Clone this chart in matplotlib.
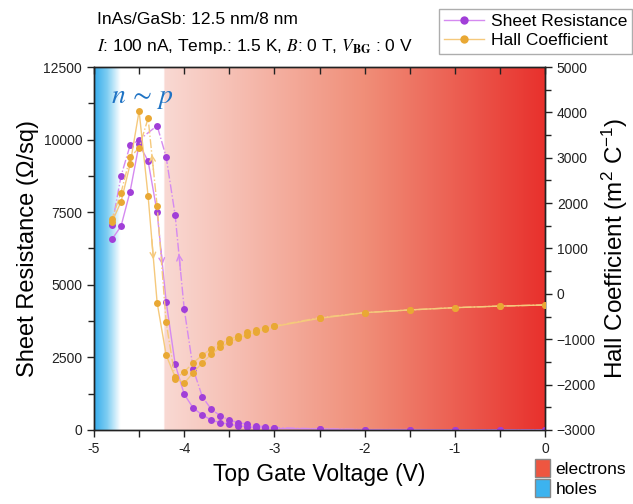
import matplotlib
matplotlib.use('Agg')
import matplotlib.pyplot as plt
import numpy as np
from matplotlib.lines import Line2D
from matplotlib.patches import Patch
from matplotlib.ticker import MultipleLocator

plt.rcParams['font.family'] = ['Liberation Sans', 'DejaVu Sans']
plt.rcParams['mathtext.fontset'] = 'stix'

# -----------------------------------------------------------
# data
# -----------------------------------------------------------
v_fwd = [-4.8, -4.7, -4.6, -4.5, -4.4, -4.3, -4.2, -4.1, -4.0, -3.9, -3.8, -3.7,
         -3.6, -3.5, -3.4, -3.3, -3.2, -3.1, -3.0, -2.5, -2.0, -1.5, -1.0, -0.5, 0.0]
r_fwd = [6570, 7020, 8210, 9840, 9260, 7490, 4420, 2260, 1230, 750, 520, 340,
         250, 200, 140, 110, 80, 70, 50, 30, 10, 10, 5, 5, 5]
h_fwd = [1590, 2030, 2855, 4030, 2150, -195, -1350, -1840, -1970, -1740, -1520, -1335,
         -1180, -1070, -980, -900, -845, -780, -720, -540, -415, -355, -305, -270, -245]

# backward sweep (0 V -> -4.8 V); resistance has no point at -4.4 V
v_bwd_r = [0.0, -0.5, -1.0, -1.5, -2.0, -2.5, -3.0, -3.1, -3.2, -3.3, -3.4, -3.5,
           -3.6, -3.7, -3.8, -3.9, -4.0, -4.1, -4.2, -4.3, -4.5, -4.6, -4.7, -4.8]
r_bwd = [5, 5, 5, 10, 10, 35, 80, 110, 140, 200, 250, 340,
         490, 710, 1150, 2090, 4170, 7390, 9400, 10480, 9990, 9800, 8750, 7060]
v_bwd_h = [0.0, -0.5, -1.0, -1.5, -2.0, -2.5, -3.0, -3.1, -3.2, -3.3, -3.4, -3.5,
           -3.6, -3.7, -3.8, -3.9, -4.0, -4.1, -4.2, -4.3, -4.4, -4.5, -4.6, -4.7, -4.8]
h_bwd = [-245, -270, -305, -355, -415, -525, -710, -755, -800, -850, -930, -1000,
         -1090, -1210, -1355, -1520, -1720, -1870, -630, 1940, 3870, 3220, 3010, 2230, 1660]

# background colour stops (gate voltage, rgb)
bg_v = [-5.0, -4.86, -4.71, -4.23, -4.22, -2.0, 0.0]
bg_rgb = [(55, 172, 236), (125, 205, 242), (255, 255, 255), (255, 255, 255),
          (249, 217, 211), (240, 142, 120), (232, 48, 44)]

purple = '#a13fd8'
purple_line = '#d58af0'
orange = '#e9a834'
orange_line = '#f5c97c'

# -----------------------------------------------------------
# figure
# -----------------------------------------------------------
fig = plt.figure(figsize=(6.33, 5.04), dpi=100)
ax = fig.add_axes([0.1485, 0.147, 0.7125, 0.72])
ax2 = ax.twinx()

# gradient background
xs = np.linspace(-5, 0, 600)
rgb = np.array(bg_rgb, dtype=float) / 255
grad = np.stack([np.interp(xs, bg_v, rgb[:, k]) for k in range(3)], axis=-1)
ax.imshow(grad[np.newaxis, :, :], extent=[-5, 0, 0, 12500], aspect='auto',
          zorder=0, interpolation='bilinear')

ax.plot(v_fwd, r_fwd, '-', color=purple_line, lw=1.0, zorder=2)
ax.plot(v_bwd_r, r_bwd, '-.', color=purple_line, lw=1.0, zorder=2)
ax.plot(v_fwd, r_fwd, 'o', color=purple, ms=5, mec='none', zorder=3)
ax.plot(v_bwd_r, r_bwd, 'o', color=purple, ms=5, mec='none', zorder=3)

ax2.plot(v_fwd, h_fwd, '-', color=orange_line, lw=1.0, zorder=2)
ax2.plot(v_bwd_h, h_bwd, '-.', color=orange_line, lw=1.0, zorder=2)
ax2.plot(v_fwd, h_fwd, 'o', color=orange, ms=5, mec='none', zorder=3)
ax2.plot(v_bwd_h, h_bwd, 'o', color=orange, ms=5, mec='none', zorder=3)


def seg_arrow(axis, xv, yv, i, color):
    # small chevron in the middle of segment i -> i+1, pointing along sweep
    xm = (xv[i] + xv[i + 1]) / 2
    ym = (yv[i] + yv[i + 1]) / 2
    dx = (xv[i + 1] - xv[i]) * 0.12
    dy = (yv[i + 1] - yv[i]) * 0.12
    axis.annotate('', xy=(xm + dx, ym + dy), xytext=(xm - dx, ym - dy),
                  arrowprops=dict(arrowstyle='->', color=color, lw=1.0,
                                  mutation_scale=10), zorder=4)


seg_arrow(ax, v_fwd, r_fwd, v_fwd.index(-4.3), purple_line)
seg_arrow(ax, v_bwd_r, r_bwd, v_bwd_r.index(-4.0), purple_line)
seg_arrow(ax2, v_fwd, h_fwd, v_fwd.index(-4.4), orange_line)
seg_arrow(ax2, v_bwd_h, h_bwd, v_bwd_h.index(-4.3), orange_line)

ax.set_xlim(-5, 0)
ax.set_ylim(0, 12500)
ax2.set_ylim(-3000, 5000)

ax.xaxis.set_major_locator(MultipleLocator(1))
ax.xaxis.set_minor_locator(MultipleLocator(0.5))
ax.yaxis.set_major_locator(MultipleLocator(2500))
ax.yaxis.set_minor_locator(MultipleLocator(1250))
ax2.yaxis.set_major_locator(MultipleLocator(1000))
ax2.yaxis.set_minor_locator(MultipleLocator(500))
ax.xaxis.set_major_formatter(lambda v, p: f'{v:g}')

ax.tick_params(axis='both', which='both', direction='out', labelsize=10,
               width=1, colors='#222222')
ax.tick_params(axis='both', which='major', length=5)
ax.tick_params(axis='both', which='minor', length=4)
ax.tick_params(axis='x', which='both', top=True, labeltop=False)
ax.tick_params(axis='x', which='both', length=5)
ax2.tick_params(axis='y', which='both', direction='out', labelsize=10,
                width=1, colors='#222222')
ax2.tick_params(axis='y', which='major', length=5)
ax2.tick_params(axis='y', which='minor', length=4)
for spine in list(ax.spines.values()) + list(ax2.spines.values()):
    spine.set_linewidth(1.0)
    spine.set_color('#222222')

# top ticks point inward
for t in ax.xaxis.get_major_ticks() + ax.xaxis.get_minor_ticks():
    t.tick2line.set_marker(3)

ax.set_xlabel('Top Gate Voltage (V)', fontsize=16.5, labelpad=5)
ax.set_ylabel('Sheet Resistance (Ω/sq)', fontsize=17, labelpad=3)
ax2.set_ylabel(r'Hall Coefficient (m$\mathregular{^2}$ C$\mathregular{^{-1}}$)',
               fontsize=17.5, labelpad=3)

ax.text(-4.81, 11450, r'$\mathbf{\mathit{n}}\,\sim\,\mathbf{\mathit{p}}$',
        color='#1f73c4', fontsize=20, ha='left', va='center', zorder=5)

fig.text(0.153, 0.962, 'InAs/GaSb: 12.5 nm/8 nm', fontsize=12.5, ha='left', va='center')
fig.text(0.153, 0.908, r'$I$: 100 nA, Temp.: 1.5 K, $B$: 0 T, $V_{\mathbf{BG}}$ : 0 V',
         fontsize=12.5, ha='left', va='center')

handles = [Line2D([], [], color=purple_line, lw=1, marker='o', ms=6,
                  mfc=purple, mec='none'),
           Line2D([], [], color=orange_line, lw=1, marker='o', ms=6,
                  mfc=orange, mec='none')]
leg = fig.legend(handles, ['Sheet Resistance', 'Hall Coefficient'],
                 loc='upper right', bbox_to_anchor=(0.999, 0.983), fontsize=12.5,
                 frameon=True, fancybox=False, edgecolor='#999999',
                 handlelength=2.3, handletextpad=0.4, borderpad=0.3,
                 labelspacing=0.25, borderaxespad=0)
leg.get_frame().set_linewidth(1.0)

patches = [Patch(facecolor='#ee5640', edgecolor='#888888'),
           Patch(facecolor='#3cb3ef', edgecolor='#888888')]
leg2 = fig.legend(patches, ['electrons', 'holes'], loc='lower right',
                  bbox_to_anchor=(1.0, 0.0), fontsize=12.5, frameon=False,
                  handlelength=0.9, handleheight=1.2, handletextpad=0.3,
                  labelspacing=0.15, borderaxespad=0)

fig.savefig('out.png', dpi=100)
